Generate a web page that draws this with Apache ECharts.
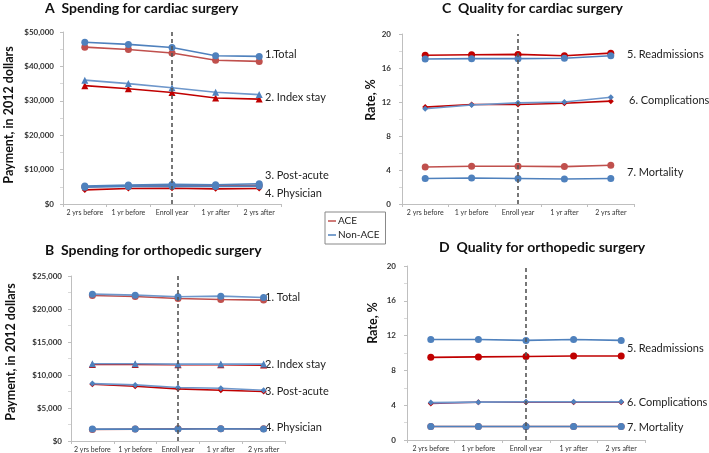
<!DOCTYPE html>
<html>
<head>
<meta charset="utf-8">
<script src="https://cdn.jsdelivr.net/npm/echarts@6/dist/echarts.min.js"></script>
<style>
html,body{margin:0;padding:0;background:#fff;}
#chart{width:709px;height:453px;}
</style>
</head>
<body>
<div id="chart"></div>
<script>
const categories = ['2 yrs before', '1 yr before', 'Enroll year', '1 yr after', '2 yrs after'];

// Panel A: Spending for cardiac surgery (2012 dollars)
const aTotalACE = [45600, 44900, 43900, 41800, 41450];
const aTotalNon = [47000, 46400, 45500, 43100, 42900];
const aIndexACE = [34400, 33500, 32400, 30800, 30500];
const aIndexNon = [36000, 35000, 33800, 32500, 31800];
const aPostACE = [5000, 5300, 5400, 5300, 5400];
const aPostNon = [5200, 5500, 5700, 5600, 5900];
const aPhysACE = [4100, 4500, 4600, 4400, 4500];
const aPhysNon = [4900, 5100, 5200, 5100, 5200];

// Panel B: Spending for orthopedic surgery
const bTotalACE = [22050, 21900, 21600, 21450, 21350];
const bTotalNon = [22250, 22100, 21850, 21950, 21750];
const bIndexACE = [11600, 11600, 11550, 11550, 11500];
const bIndexNon = [11700, 11700, 11650, 11650, 11650];
const bPostACE = [8600, 8300, 7900, 7700, 7500];
const bPostNon = [8700, 8500, 8100, 8000, 7700];
const bPhysACE = [1750, 1800, 1850, 1850, 1850];
const bPhysNon = [1800, 1800, 1800, 1850, 1800];

// Panel C: Quality for cardiac surgery (rate, %)
const cReadACE = [17.5, 17.55, 17.6, 17.45, 17.75];
const cReadNon = [17.05, 17.1, 17.1, 17.15, 17.45];
const cCompACE = [11.4, 11.7, 11.7, 11.85, 12.1];
const cCompNon = [11.2, 11.65, 11.9, 12.0, 12.55];
const cMortACE = [4.35, 4.45, 4.45, 4.4, 4.55];
const cMortNon = [3.0, 3.05, 3.0, 2.95, 3.0];

// Panel D: Quality for orthopedic surgery (rate, %)
const dReadACE = [9.5, 9.55, 9.6, 9.65, 9.65];
const dReadNon = [11.55, 11.55, 11.45, 11.55, 11.45];
const dCompACE = [4.2, 4.35, 4.35, 4.35, 4.35];
const dCompNon = [4.3, 4.35, 4.4, 4.4, 4.4];
const dMortACE = [1.55, 1.55, 1.55, 1.55, 1.55];
const dMortNon = [1.55, 1.55, 1.55, 1.55, 1.55];

const aTicks = {min: 0, max: 50000, interval: 10000};
const bTicks = {min: 0, max: 25000, interval: 5000};
const rateTicks = {min: 0, max: 20, interval: 4};

const FONT = 'Lato';
const RED = '#C00000', LRED = '#C0504D', BLUE = '#4F81BD';

const grids = [
  {left: 63, top: 32, width: 218, height: 172},
  {left: 71, top: 276, width: 214, height: 166},
  {left: 402, top: 34, width: 232, height: 170},
  {left: 407, top: 266, width: 238, height: 174}
];

function money(v){ return '$' + v.toLocaleString('en-US'); }

const xAxes = grids.map((g, i) => ({
  type: 'category', gridIndex: i, data: categories, boundaryGap: true,
  axisLine: {lineStyle: {color: '#BFBFBF'}},
  axisTick: {show: true, length: 3, lineStyle: {color: '#BFBFBF'}},
  axisLabel: {fontFamily: FONT, fontSize: 7, color: '#333', margin: 5, interval: 0}
}));

const ticks = [aTicks, bTicks, rateTicks, rateTicks];
const yAxes = ticks.map((t, i) => ({
  type: 'value', gridIndex: i, min: t.min, max: t.max, interval: t.interval,
  splitLine: {show: false},
  axisLine: {show: true, lineStyle: {color: '#BFBFBF'}},
  axisTick: {show: true, length: 3, lineStyle: {color: '#BFBFBF'}},
  minorTick: {show: true, splitNumber: 2, length: 3, lineStyle: {color: '#D9D9D9'}},
  axisLabel: {fontFamily: FONT, fontSize: 8, fontWeight: 'bold', color: '#333', margin: i < 2 ? 9 : 11,
    formatter: i < 2 ? money : (v => String(v))}
}));

function ser(name, data, idx, color, symbol, size, lineColor, extra){
  const s = {
    name: name, type: 'line', xAxisIndex: idx, yAxisIndex: idx, data: data,
    symbol: symbol, symbolSize: size, showSymbol: true,
    lineStyle: {color: lineColor || color, width: 1.6},
    itemStyle: {color: color},
    z: name === 'ACE' ? 2 : 3
  };
  return Object.assign(s, extra || {});
}

const dash = {
  markLine: {
    silent: true, symbol: ['none', 'none'], label: {show: false},
    lineStyle: {type: [4, 3], color: '#555', width: 1.6},
    data: [{xAxis: 'Enroll year'}]
  }
};

const series = [
  // A
  ser('ACE', aTotalACE, 0, LRED, 'circle', 7, null, dash),
  ser('Non-ACE', aTotalNon, 0, BLUE, 'circle', 7),
  ser('ACE', aIndexACE, 0, RED, 'triangle', 7),
  ser('Non-ACE', aIndexNon, 0, BLUE, 'triangle', 7, '#6E97CB'),
  ser('ACE', aPostACE, 0, LRED, 'circle', 7),
  ser('ACE', aPhysACE, 0, RED, 'diamond', 6),
  ser('Non-ACE', aPostNon, 0, BLUE, 'circle', 7),
  ser('Non-ACE', aPhysNon, 0, BLUE, 'circle', 7),
  // B
  ser('ACE', bTotalACE, 1, LRED, 'circle', 7, null, dash),
  ser('Non-ACE', bTotalNon, 1, BLUE, 'circle', 7, '#6E97CB'),
  ser('ACE', bIndexACE, 1, RED, 'triangle', 7),
  ser('Non-ACE', bIndexNon, 1, BLUE, 'triangle', 7, '#6E97CB'),
  ser('ACE', bPostACE, 1, RED, 'diamond', 6),
  ser('Non-ACE', bPostNon, 1, BLUE, 'diamond', 6, '#6E97CB'),
  ser('ACE', bPhysACE, 1, LRED, 'circle', 7),
  ser('Non-ACE', bPhysNon, 1, BLUE, 'circle', 7),
  // C
  ser('ACE', cReadACE, 2, RED, 'circle', 7, null, dash),
  ser('Non-ACE', cReadNon, 2, BLUE, 'circle', 7),
  ser('ACE', cCompACE, 2, RED, 'diamond', 6),
  ser('Non-ACE', cCompNon, 2, BLUE, 'diamond', 6, '#6E97CB'),
  ser('ACE', cMortACE, 2, LRED, 'circle', 7),
  ser('Non-ACE', cMortNon, 2, BLUE, 'circle', 7),
  // D
  ser('ACE', dReadACE, 3, RED, 'circle', 7, null, dash),
  ser('Non-ACE', dReadNon, 3, BLUE, 'circle', 7),
  ser('ACE', dCompACE, 3, RED, 'diamond', 6, '#8E3A6A'),
  ser('Non-ACE', dCompNon, 3, BLUE, 'diamond', 6, '#6E97CB'),
  ser('ACE', dMortACE, 3, LRED, 'circle', 7),
  ser('Non-ACE', dMortNon, 3, BLUE, 'circle', 7)
];

function txt(x, y, s, opts){
  return {type: 'text', x: x, y: y, silent: true,
    style: Object.assign({text: s, fontFamily: FONT, fontSize: 11, fill: '#222',
      textAlign: 'left', textVerticalAlign: 'middle'}, opts || {})};
}
function rot(x, y, s){
  return {type: 'text', x: x, y: y, rotation: Math.PI / 2, silent: true,
    style: {text: s, fontFamily: FONT, fontSize: 12.5, fontWeight: 'bold', fill: '#111',
      textAlign: 'center', textVerticalAlign: 'middle'}};
}

const titleStyle = {fontSize: 14, fontWeight: 'bold', fill: '#111'};

const graphics = [
  txt(45, 8, 'A  Spending for cardiac surgery', titleStyle),
  txt(45, 250, 'B  Spending for orthopedic surgery', titleStyle),
  txt(442, 8, 'C  Quality for cardiac surgery', titleStyle),
  txt(439, 247, 'D  Quality for orthopedic surgery', titleStyle),
  rot(9, 115, 'Payment, in 2012 dollars'),
  rot(11, 352, 'Payment, in 2012 dollars'),
  rot(371, 100, 'Rate, %'),
  rot(373, 323, 'Rate, %'),
  txt(265, 54, '1.Total'),
  txt(265, 97, '2. Index stay'),
  txt(265, 175, '3. Post-acute'),
  txt(265, 193, '4. Physician'),
  txt(265, 297, '1. Total'),
  txt(265, 364, '2. Index stay'),
  txt(265, 391, '3. Post-acute'),
  txt(265, 427, '4. Physician'),
  txt(627, 54, '5. Readmissions'),
  txt(629, 100, '6. Complications'),
  txt(627, 172, '7. Mortality'),
  txt(627, 348, '5. Readmissions'),
  txt(627, 402, '6. Complications'),
  txt(627, 427, '7. Mortality')
];

const chart = echarts.init(document.getElementById('chart'), null, {renderer: 'canvas'});
chart.setOption({
  animation: false,
  backgroundColor: '#fff',
  grid: grids,
  xAxis: xAxes,
  yAxis: yAxes,
  legend: {
    left: 325, top: 212, orient: 'vertical', itemGap: 4,
    padding: [4, 6, 4, 3], borderColor: '#888', borderWidth: 1, backgroundColor: '#fff',
    itemWidth: 8, itemHeight: 1.5, icon: 'rect',
    textStyle: {fontFamily: FONT, fontSize: 10, color: '#222', padding: [0, 0, 0, -3]},
    data: [
      {name: 'ACE', itemStyle: {color: LRED}},
      {name: 'Non-ACE', itemStyle: {color: BLUE}}
    ]
  },
  graphic: graphics,
  series: series
});
</script>
</body>
</html>
